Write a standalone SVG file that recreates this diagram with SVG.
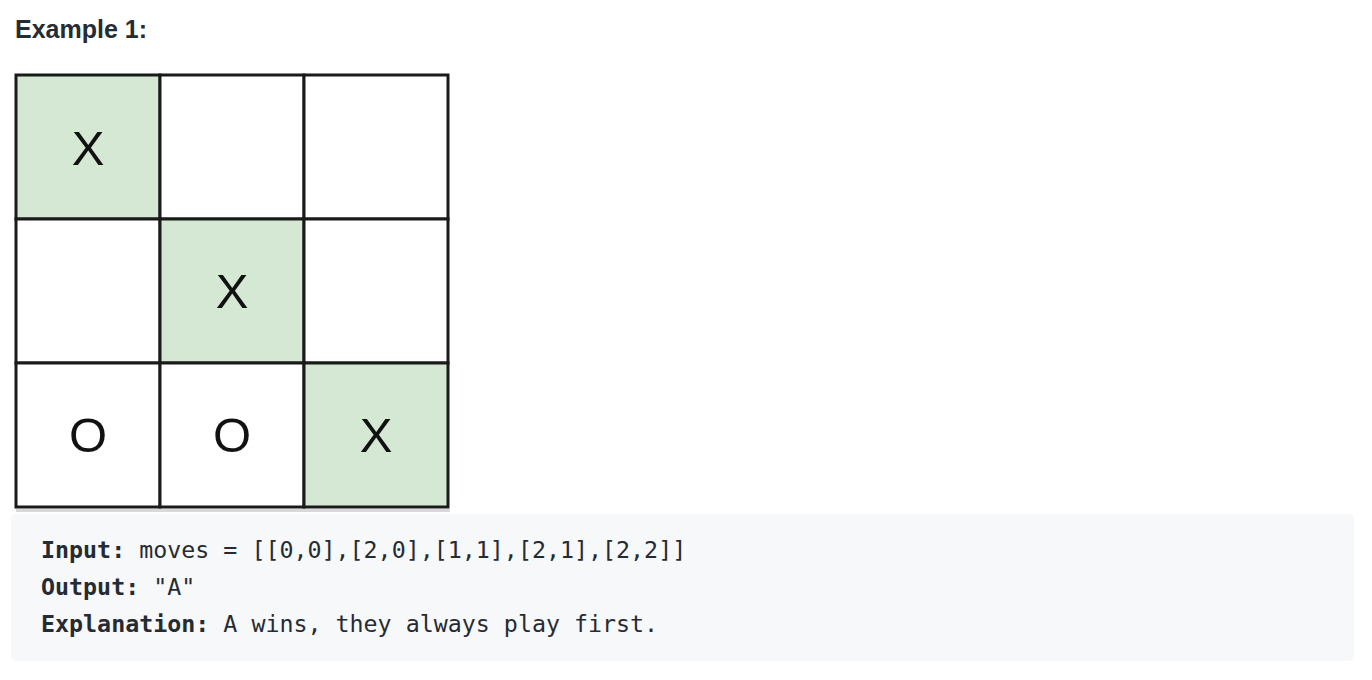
<svg xmlns="http://www.w3.org/2000/svg" width="1372" height="680" viewBox="0 0 1372 680">
<style>
.cell{stroke:#1a1a1a;stroke-width:3}
.g{fill:#d5e8d4}
.w{fill:#ffffff}
.mark{font-family:"Liberation Sans",Arial,sans-serif;font-size:49px;fill:#111;text-anchor:middle}
.code{font-family:"DejaVu Sans Mono",monospace;font-size:23.3px;fill:#262b33}
.b{font-weight:bold}
</style>
<rect width="1372" height="680" fill="#ffffff"/>
<text x="15" y="38" font-family="Liberation Sans,Arial,sans-serif" font-size="25" font-weight="bold" fill="#262c33">Example 1:</text>
<g id="board">
<rect x="16" y="509" width="434" height="3" fill="#c8c8c8" opacity="0.7"/>
<g id="c00"><rect class="cell g" x="16" y="75" width="144" height="144"/><text class="mark" x="88" y="165">X</text></g>
<g id="c01"><rect class="cell w" x="160" y="75" width="144" height="144"/></g>
<g id="c02"><rect class="cell w" x="304" y="75" width="144" height="144"/></g>
<g id="c10"><rect class="cell w" x="16" y="219" width="144" height="144"/></g>
<g id="c11"><rect class="cell g" x="160" y="219" width="144" height="144"/><text class="mark" x="232" y="308">X</text></g>
<g id="c12"><rect class="cell w" x="304" y="219" width="144" height="144"/></g>
<g id="c20"><rect class="cell w" x="16" y="363" width="144" height="144"/><text class="mark" x="88" y="452">O</text></g>
<g id="c21"><rect class="cell w" x="160" y="363" width="144" height="144"/><text class="mark" x="232" y="452">O</text></g>
<g id="c22"><rect class="cell g" x="304" y="363" width="144" height="144"/><text class="mark" x="376" y="452">X</text></g>
</g>
<g id="connectors"></g>
<g id="codebox">
<rect x="11" y="514" width="1343" height="147" rx="5" fill="#f7f8fa"/>
<text class="code" x="41" y="558"><tspan class="b">Input:</tspan> moves = [[0,0],[2,0],[1,1],[2,1],[2,2]]</text>
<text class="code" x="41" y="595"><tspan class="b">Output:</tspan> "A"</text>
<text class="code" x="41" y="632"><tspan class="b">Explanation:</tspan> A wins, they always play first.</text>
</g>
</svg>
